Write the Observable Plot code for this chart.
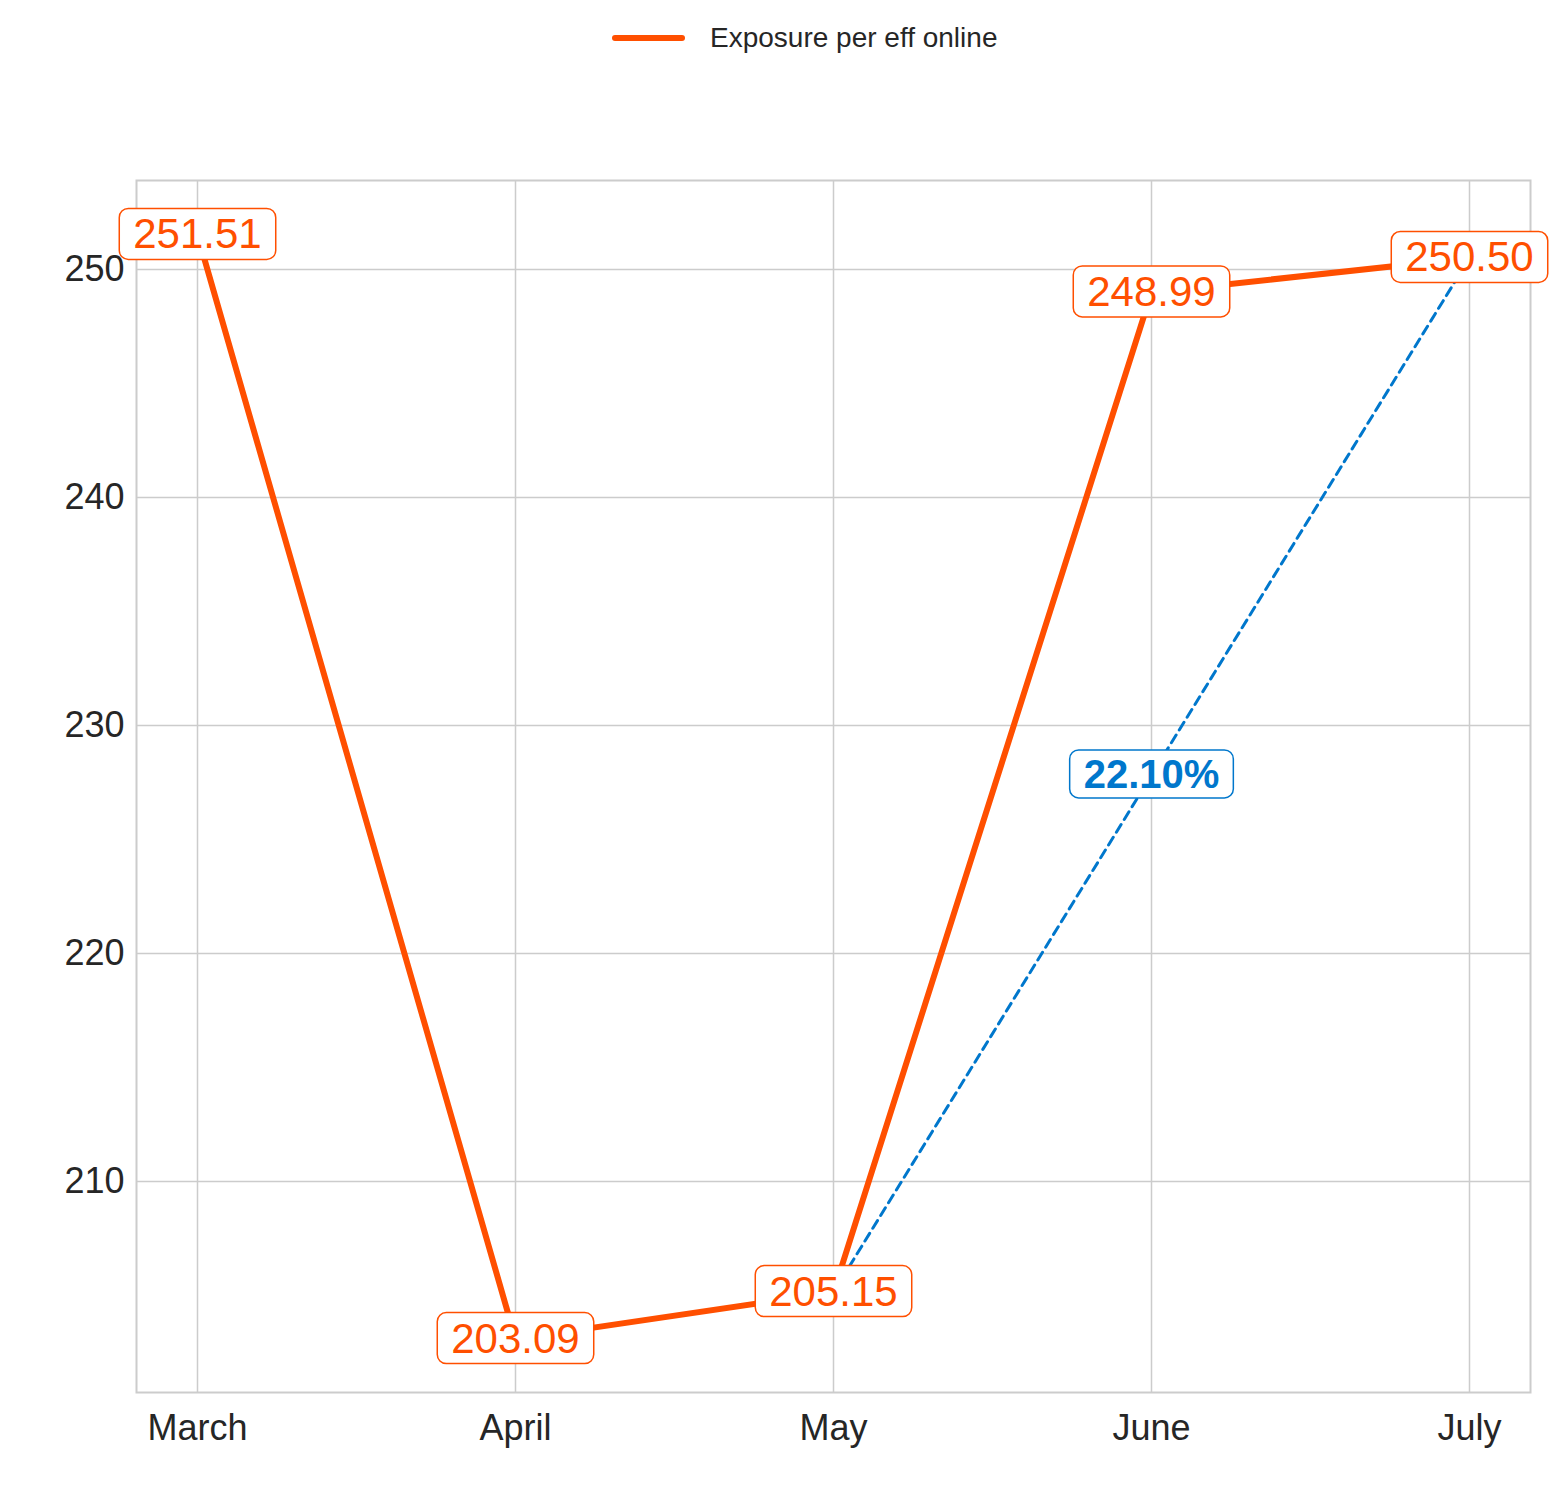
<!DOCTYPE html>
<html><head><meta charset="utf-8">
<script src="https://cdn.jsdelivr.net/npm/d3@7"></script>
<script src="https://cdn.jsdelivr.net/npm/@observablehq/plot@0.6"></script>
<style>
body{margin:0;background:#fff;font-family:"Liberation Sans",Arial,sans-serif}
#wrap{position:relative;width:1552px;height:1497px}
#legend{position:absolute;top:22px;left:612px;display:flex;align-items:center;font-size:28px;color:#262626}
#legend span.sw{display:inline-block;width:73px;height:6px;background:#ff4f00;margin-right:25px;border-radius:3px}
</style></head>
<body><div id="wrap"><div id="legend"><span class="sw"></span>Exposure per eff online</div><div id="chart"></div></div>
<script>
const months = ["March", "April", "May", "June", "July"];
const values = [251.51, 203.09, 205.15, 248.99, 250.50];
const changeLabel = "22.10%";

const data = months.map((m, i) => ({month: m, value: values[i]}));
const seg = [data[2], data[4]];
const mid = {month: "June", value: (data[2].value + data[4].value) / 2, label: changeLabel};

const chart = Plot.plot({
  width: 1552, height: 1497,
  marginLeft: 136, marginRight: 22, marginTop: 180, marginBottom: 105,
  style: {fontFamily: "Liberation Sans, Arial, sans-serif", color: "#262626", background: "#fff", fontSize: "36px"},
  x: {type: "point", domain: months, padding: 0.19, label: null, tickSize: 0, tickPadding: 22},
  y: {domain: [200.75, 253.9], ticks: [210, 220, 230, 240, 250], label: null, tickSize: 0, tickPadding: 12},
  marks: [
    Plot.gridX(months, {stroke: "#cccccc", strokeOpacity: 1, strokeWidth: 1.5}),
    Plot.gridY([210, 220, 230, 240, 250], {stroke: "#cccccc", strokeOpacity: 1, strokeWidth: 1.5}),
    Plot.frame({stroke: "#cccccc", strokeWidth: 2}),
    Plot.line(seg, {x: "month", y: "value", stroke: "#0077cc", strokeWidth: 3, strokeDasharray: "9,6"}),
    Plot.line(data, {x: "month", y: "value", stroke: "#ff4f00", strokeWidth: 6}),
    Plot.text(data, {x: "month", y: "value", text: d => d.value.toFixed(2), fill: "#ff4f00", fontSize: 42, className: "lbl-o"}),
    Plot.text([mid], {x: "month", y: "value", text: "label", fill: "#0077cc", fontSize: 40, fontWeight: "bold", className: "lbl-b"})
  ]
});
d3.select("#chart").append(() => chart);

// rounded label boxes behind texts
function box(cls, color) {
  d3.select(chart).selectAll("g." + cls + " text").each(function() {
    const b = this.getBBox();
    d3.select(this.parentNode).insert("rect", () => this)
      .attr("transform", this.getAttribute("transform"))
      .attr("x", (+this.getAttribute("x") || 0) + b.x - 14)
      .attr("y", (+this.getAttribute("y") || 0) + b.y - 2)
      .attr("width", b.width + 28).attr("height", b.height + 4)
      .attr("rx", 9).attr("fill", "#fff").attr("stroke", color).attr("stroke-width", 1.5);
  });
}
box("lbl-o", "#ff4f00");
box("lbl-b", "#0077cc");
</script></body></html>
